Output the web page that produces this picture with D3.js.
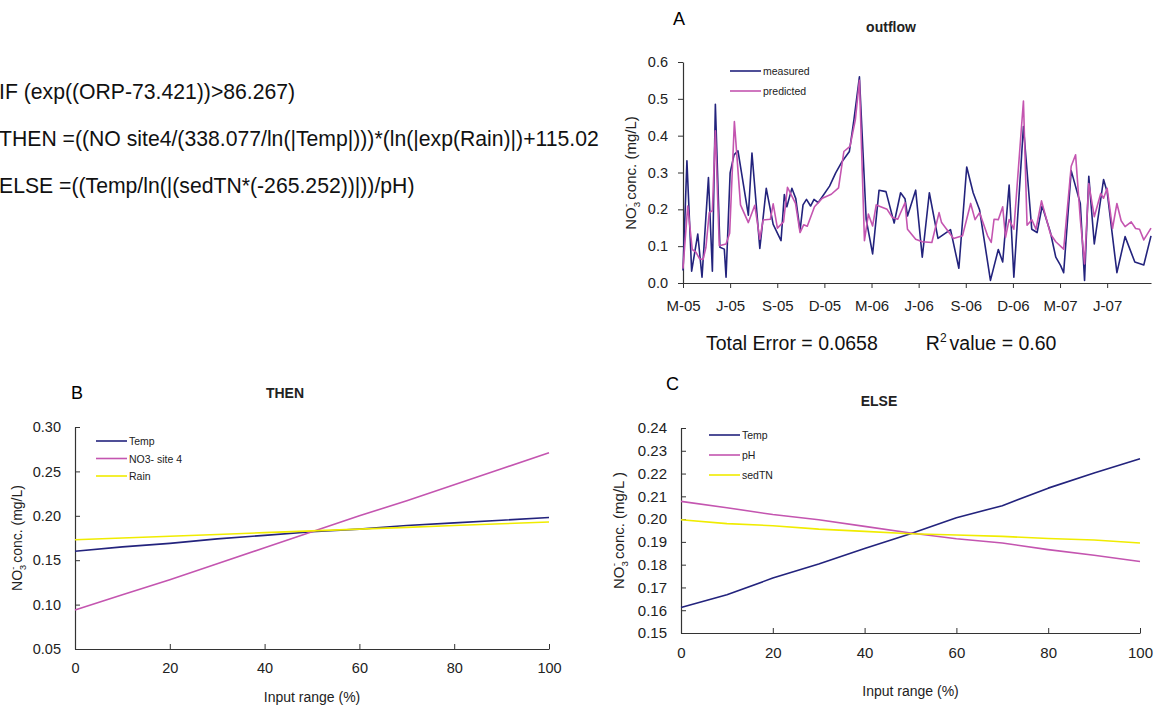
<!DOCTYPE html>
<html>
<head>
<meta charset="utf-8">
<script src="https://cdn.jsdelivr.net/npm/d3@7/dist/d3.min.js"></script>
<style>
body { margin: 0; background: #fff; }
svg { font-family: "Liberation Sans", Arial, sans-serif; }
</style>
</head>
<body>
<svg id="fig" width="1164" height="709"></svg>
<script>
// ---- rule text ----
var ruleLines = [
    "IF (exp((ORP-73.421))>86.267)",
    "THEN =((NO site4/(338.077/ln(|Temp|)))*(ln(|exp(Rain)|)+115.02",
    "ELSE =((Temp/ln(|(sedTN*(-265.252))|))/pH)"
];

// ---- panel A: outflow, months since March 2005 ----
var monthTicks = [0, 3, 6, 9, 12, 15, 18, 21, 24, 27];
var monthLabels = ["M-05", "J-05", "S-05", "D-05", "M-06", "J-06", "S-06", "D-06", "M-07", "J-07"];
var measuredMonth = [0, 0.25, 0.55, 0.94, 1.21, 1.62, 1.87, 2.06, 2.35, 2.63, 2.74, 3.00, 3.25, 3.50, 4.16, 4.39,
    4.89, 5.30, 5.74, 6.24, 6.45, 6.61, 6.93, 7.18, 7.45, 7.64, 7.86, 8.12, 8.34, 8.60, 8.80, 9.33, 9.72, 10.13,
    10.59, 10.88, 11.23, 11.66, 12.07, 12.48, 12.92, 13.44, 13.85, 14.13, 14.29, 14.81, 15.23, 15.68, 16.23, 17.03,
    17.56, 18.06, 18.47, 18.88, 19.57, 20.07, 20.35, 20.76, 21.06, 21.67, 22.20, 22.54, 22.86, 23.39, 23.73, 24.03,
    24.23, 24.71, 25.29, 25.56, 25.83, 26.18, 26.77, 27.00, 27.62, 28.14, 28.76, 29.33, 29.79];
var measuredNO3 = [0.034, 0.332, 0.032, 0.133, 0.016, 0.286, 0.032, 0.485, 0.097, 0.092, 0.016, 0.299, 0.348, 0.359, 0.184, 0.353,
    0.094, 0.257, 0.159, 0.115, 0.240, 0.207, 0.257, 0.229, 0.142, 0.212, 0.227, 0.209, 0.227, 0.218, 0.230, 0.263, 0.299, 0.330,
    0.357, 0.443, 0.560, 0.173, 0.079, 0.252, 0.248, 0.163, 0.245, 0.229, 0.182, 0.252, 0.070, 0.245, 0.121, 0.145,
    0.040, 0.315, 0.245, 0.198, 0.007, 0.091, 0.057, 0.266, 0.016, 0.425, 0.146, 0.137, 0.209, 0.137, 0.070, 0.048,
    0.028, 0.305, 0.216, 0.007, 0.290, 0.106, 0.281, 0.247, 0.028, 0.126, 0.057, 0.049, 0.128];
var predictedMonth = [0, 0.30, 0.59, 0.82, 1.05, 1.28, 1.46, 1.67, 1.87, 2.06, 2.31, 2.74, 2.97, 3.27, 3.66, 4.16,
    4.57, 4.89, 5.10, 5.56, 5.74, 6.01, 6.40, 6.65, 7.16, 7.45, 7.68, 7.91, 8.37, 8.87, 9.44, 9.90, 10.24, 10.63,
    10.97, 11.23, 11.55, 11.80, 12.07, 12.30, 12.99, 13.33, 13.67, 14.13, 14.29, 14.81, 15.23, 15.84, 16.30, 16.46,
    17.22, 17.79, 18.31, 18.59, 18.88, 19.39, 19.62, 19.80, 20.07, 20.35, 20.53, 20.76, 21.06, 21.67, 21.90, 22.20,
    22.47, 22.82, 23.39, 23.73, 24.23, 24.71, 24.99, 25.29, 25.56, 25.83, 26.18, 26.59, 26.77, 27.00, 27.34, 27.62,
    27.89, 28.14, 28.53, 28.81, 29.06, 29.33, 29.79];
var predictedNO3 = [0.039, 0.209, 0.091, 0.084, 0.066, 0.064, 0.097, 0.191, 0.196, 0.413, 0.101, 0.106, 0.135, 0.438, 0.212, 0.164,
    0.211, 0.119, 0.171, 0.173, 0.215, 0.149, 0.166, 0.260, 0.216, 0.137, 0.158, 0.154, 0.207, 0.230, 0.241, 0.258, 0.357, 0.371,
    0.443, 0.550, 0.115, 0.187, 0.155, 0.212, 0.200, 0.178, 0.173, 0.218, 0.146, 0.119, 0.112, 0.110, 0.191, 0.164,
    0.121, 0.128, 0.216, 0.172, 0.191, 0.128, 0.110, 0.173, 0.172, 0.207, 0.124, 0.172, 0.146, 0.494, 0.157, 0.172,
    0.146, 0.223, 0.133, 0.112, 0.092, 0.317, 0.348, 0.173, 0.052, 0.270, 0.180, 0.243, 0.230, 0.257, 0.148, 0.216,
    0.169, 0.153, 0.166, 0.148, 0.146, 0.117, 0.149];

// ---- panels B and C: input range (%) ----
var inputRange = [0, 10, 20, 30, 40, 50, 60, 70, 80, 90, 100];
var thenTemp = [0.160, 0.165, 0.169, 0.174, 0.178, 0.182, 0.185, 0.189, 0.192, 0.195, 0.198];
var thenNO3site4 = [0.094, 0.111, 0.128, 0.146, 0.164, 0.182, 0.200, 0.217, 0.235, 0.253, 0.271];
var thenRain = [0.173, 0.175, 0.177, 0.179, 0.181, 0.183, 0.185, 0.187, 0.189, 0.191, 0.193];
var elseTemp = [0.1612, 0.1668, 0.1741, 0.1803, 0.1871, 0.1936, 0.2006, 0.2059, 0.2136, 0.2202, 0.2265];
var elsePH = [0.2078, 0.2050, 0.2020, 0.1997, 0.1968, 0.1939, 0.1914, 0.1895, 0.1866, 0.1841, 0.1814];
var elseSedTN = [0.1997, 0.1980, 0.1971, 0.1956, 0.1946, 0.1936, 0.1930, 0.1924, 0.1915, 0.1908, 0.1895];

var BLUE = "#23237d", PINK = "#c455b0", YELLOW = "#f0ec00", AXIS = "#333";

var svg = d3.select("#fig");

svg.append("g").selectAll("text").data(ruleLines).enter().append("text")
    .attr("x", -1).attr("y", function (d, i) { return 99 + i * 47; })
    .attr("font-size", 21.2).attr("fill", "#111")
    .text(function (d) { return d; });

function yLabel(g, x, y, size, text) {
    var t = g.append("text").attr("transform", "translate(" + x + "," + y + ") rotate(-90)")
        .attr("text-anchor", "middle").attr("font-size", size).attr("fill", "#222");
    t.append("tspan").text("NO");
    t.append("tspan").attr("font-size", size * 0.65).attr("dy", size * 0.25).text("3");
    t.append("tspan").attr("font-size", size * 0.65).attr("dx", -size * 0.35).attr("dy", -size * 0.7).text("-");
    t.append("tspan").attr("dy", size * 0.45).text(text);
}

function legend(g, x, y, gap, items) {
    var row = g.append("g").selectAll("g").data(items).enter().append("g")
        .attr("transform", function (d, i) { return "translate(" + x + "," + (y + i * gap) + ")"; });
    row.append("line").attr("x1", 0).attr("x2", 31).attr("stroke", function (d) { return d.color; })
        .attr("stroke-width", 1.6);
    row.append("text").attr("x", 33).attr("y", 4).attr("font-size", 10.5).attr("fill", "#222")
        .text(function (d) { return d.name; });
}

function drawLines(g, x, y, series) {
    var line = d3.line().x(function (d) { return x(d[0]); }).y(function (d) { return y(d[1]); });
    g.append("g").selectAll("path").data(series).enter().append("path")
        .attr("fill", "none").attr("stroke-width", 1.6).attr("stroke-linejoin", "round")
        .attr("stroke", function (d) { return d.color; })
        .attr("d", function (d) { return line(d.xs.map(function (v, i) { return [v, d.ys[i]]; })); });
}

function styleAxis(a) {
    a.selectAll("path, line").attr("stroke", AXIS);
    a.select(".domain").attr("stroke-width", 1.2);
    a.selectAll("text").attr("fill", "#222");
}

// ---- panel A ----
(function () {
    var g = svg.append("g");
    var x = d3.scaleLinear().domain([0, 29.79]).range([683, 1151]);
    var y = d3.scaleLinear().domain([0, 0.6]).range([283, 62]);
    var ax = g.append("g").attr("transform", "translate(0,283)")
        .call(d3.axisBottom(x).tickValues(monthTicks).tickSize(5).tickSizeOuter(0)
            .tickFormat(function (d, i) { return monthLabels[i]; }));
    ax.selectAll("text").attr("font-size", 15).attr("dy", "1.3em");
    styleAxis(ax);
    var ay = g.append("g").attr("transform", "translate(683,0)")
        .call(d3.axisLeft(y).ticks(6).tickFormat(d3.format(".1f")).tickSize(5).tickSizeOuter(0));
    ay.selectAll("text").attr("font-size", 14.5).attr("x", -15);
    styleAxis(ay);
    drawLines(g, x, y, [
        { color: BLUE, xs: measuredMonth, ys: measuredNO3 },
        { color: PINK, xs: predictedMonth, ys: predictedNO3 }
    ]);
    legend(g, 730, 71, 20, [{ name: "measured", color: BLUE }, { name: "predicted", color: PINK }]);
    g.append("text").attr("x", 673).attr("y", 25).attr("font-size", 18).text("A");
    g.append("text").attr("x", 891).attr("y", 32).attr("text-anchor", "middle")
        .attr("font-size", 14).attr("font-weight", "bold").attr("fill", "#222").text("outflow");
    yLabel(g, 636, 173, 15, " conc. (mg/L)");
    var s = g.append("text").attr("x", 706).attr("y", 350).attr("font-size", 19.5).attr("fill", "#111");
    s.append("tspan").text("Total Error = 0.0658");
    s.append("tspan").attr("dx", 48).text("R");
    s.append("tspan").attr("font-size", 12).attr("dy", -8).text("2");
    s.append("tspan").attr("dy", 8).attr("dx", 3).text("value = 0.60");
})();

// ---- panels B and C share the same form ----
function sensitivityPanel(o) {
    var g = svg.append("g");
    var x = d3.scaleLinear().domain([0, 100]).range([o.left, o.right]);
    var y = d3.scaleLinear().domain(o.yDomain).range([o.bottom, o.top]);
    var ax = g.append("g").attr("transform", "translate(0," + o.bottom + ")")
        .call(d3.axisBottom(x).tickValues([0, 20, 40, 60, 80, 100]).tickSize(-5).tickSizeOuter(0));
    ax.selectAll("text").attr("font-size", o.font).attr("y", 14).attr("dy", "0.71em");
    styleAxis(ax);
    var ay = g.append("g").attr("transform", "translate(" + o.left + ",0)")
        .call(d3.axisLeft(y).tickValues(o.yTicks).tickFormat(d3.format(".2f")).tickSize(-5).tickSizeOuter(0));
    ay.selectAll("text").attr("font-size", o.font).attr("x", -14);
    styleAxis(ay);
    drawLines(g, x, y, o.series);
    legend(g, o.legX, o.legY, o.legGap, o.series);
    g.append("text").attr("x", o.letterX).attr("y", o.letterY).attr("font-size", 18).text(o.letter);
    g.append("text").attr("x", o.titleX).attr("y", o.titleY).attr("text-anchor", "middle")
        .attr("font-size", 14).attr("font-weight", "bold").attr("fill", "#222").text(o.title);
    g.append("text").attr("x", (o.left + o.right) / 2).attr("y", o.xLabelY).attr("text-anchor", "middle")
        .attr("font-size", 14).attr("fill", "#222").text("Input range (%)");
    yLabel(g, o.yLabelX, (o.top + o.bottom) / 2, o.yLabelSize, o.yLabelText);
}

sensitivityPanel({
    left: 75, right: 549, top: 427, bottom: 649, font: 14.5,
    yDomain: [0.05, 0.30], yTicks: [0.05, 0.10, 0.15, 0.20, 0.25, 0.30],
    series: [
        { name: "Temp", color: BLUE, xs: inputRange, ys: thenTemp },
        { name: "NO3- site 4", color: PINK, xs: inputRange, ys: thenNO3site4 },
        { name: "Rain", color: YELLOW, xs: inputRange, ys: thenRain }
    ],
    legX: 96, legY: 441, legGap: 17.5,
    letter: "B", letterX: 71, letterY: 399,
    title: "THEN", titleX: 285, titleY: 398,
    xLabelY: 702, yLabelX: 22, yLabelSize: 14, yLabelText: " conc. (mg/L)"
});

sensitivityPanel({
    left: 681, right: 1140, top: 428, bottom: 633, font: 15,
    yDomain: [0.15, 0.24], yTicks: d3.range(15, 25).map(function (d) { return d / 100; }),
    series: [
        { name: "Temp", color: BLUE, xs: inputRange, ys: elseTemp },
        { name: "pH", color: PINK, xs: inputRange, ys: elsePH },
        { name: "sedTN", color: YELLOW, xs: inputRange, ys: elseSedTN }
    ],
    legX: 709, legY: 435, legGap: 20,
    letter: "C", letterX: 666, letterY: 390,
    title: "ELSE", titleX: 879, titleY: 406,
    xLabelY: 696, yLabelX: 624, yLabelSize: 15, yLabelText: " conc. (mg/L )"
});
</script>
</body>
</html>
